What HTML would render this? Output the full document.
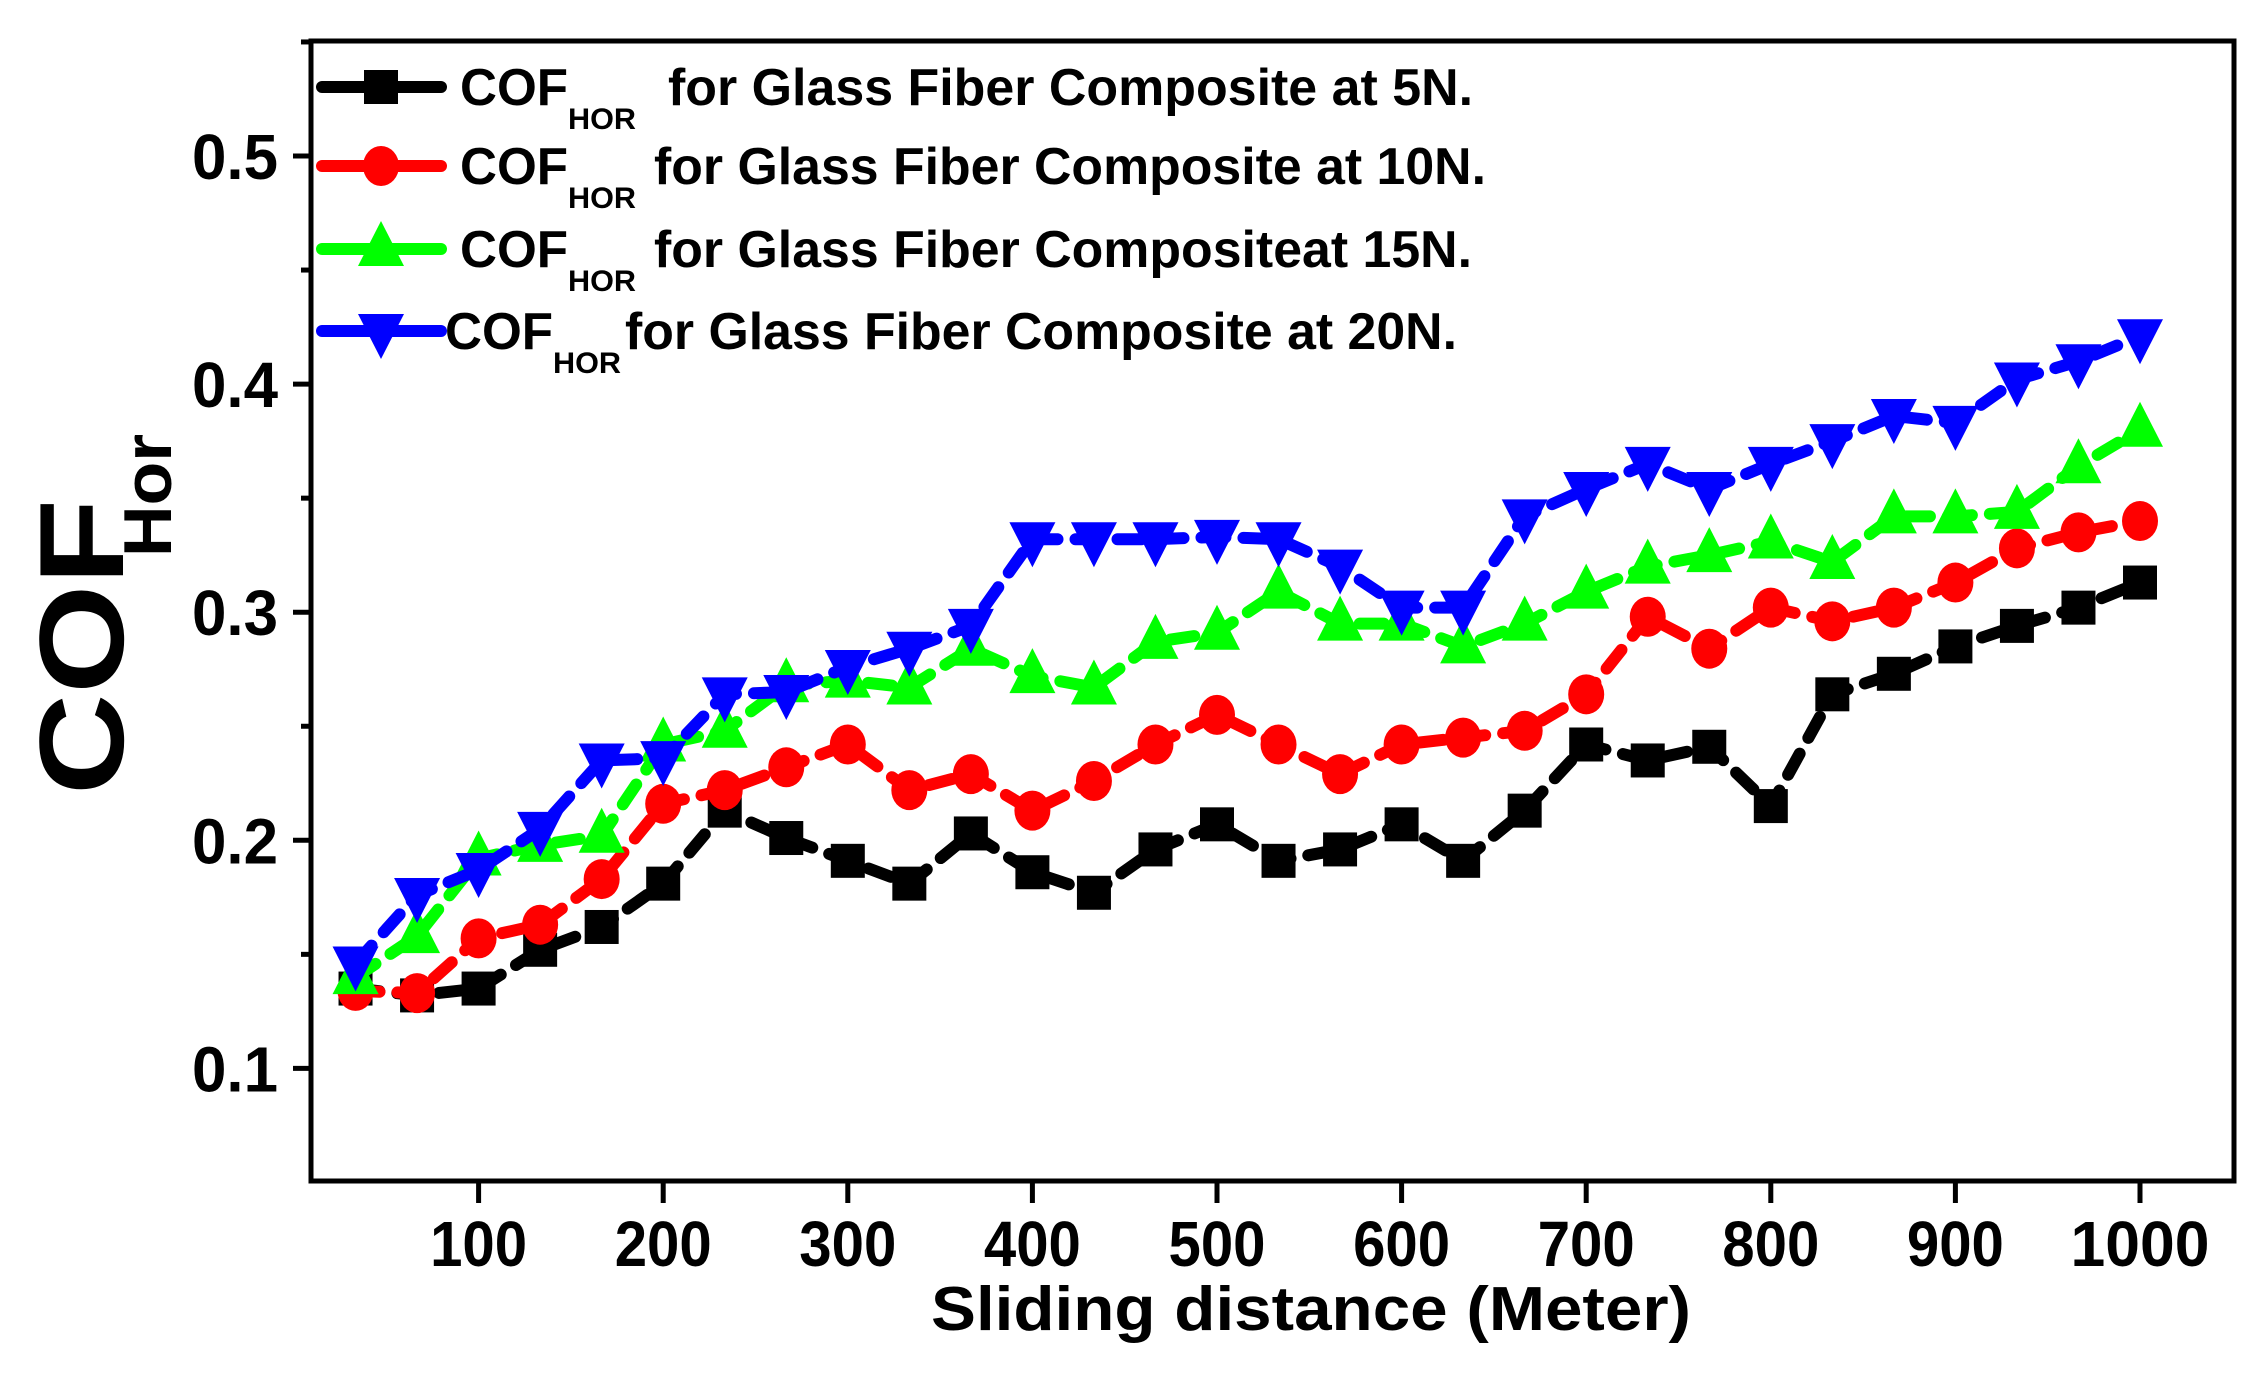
<!DOCTYPE html>
<html><head><meta charset="utf-8"><style>html,body{margin:0;padding:0;background:#fff}svg{display:block}</style></head>
<body>
<svg xmlns="http://www.w3.org/2000/svg" width="2267" height="1381" viewBox="0 0 2267 1381" font-family="Liberation Sans, Arial, sans-serif" font-weight="bold">
<rect width="2267" height="1381" fill="#fff"/>
<g id="plot"></g>
<rect x="311" y="41" width="1923" height="1140" fill="none" stroke="#000" stroke-width="5"/>
<g id="axes" stroke="#000" stroke-width="5"></g>
<g id="labels" font-size="64"></g>
<text x="1311" y="1330" font-size="62" text-anchor="middle" textLength="760" lengthAdjust="spacingAndGlyphs">Sliding distance (Meter)</text>
<g transform="translate(123,795) rotate(-90)">
<text x="0" y="0" font-size="120" textLength="296" lengthAdjust="spacingAndGlyphs">COF</text>
<text x="238" y="48" font-size="68" textLength="123" lengthAdjust="spacingAndGlyphs">Hor</text>
</g>
<g id="legend"></g>
<script>
const NS="http://www.w3.org/2000/svg";
function el(p,t,a,txt){const e=document.createElementNS(NS,t);for(const k in a)e.setAttribute(k,a[k]);if(txt!==undefined)e.textContent=txt;p.appendChild(e);return e;}
const X=d=>478.6+(d-100)*1.846, Y=v=>156+(0.5-v)*2281;
const ax=document.getElementById('axes'), lb=document.getElementById('labels');
for(let v=0.1;v<=0.501;v+=0.1){el(ax,'line',{x1:311,x2:293,y1:Y(v),y2:Y(v)});el(lb,'text',{x:278,y:Y(v)+23,'text-anchor':'end',textLength:86,lengthAdjust:'spacingAndGlyphs'},v.toFixed(1));}
for(let v=0.15;v<=0.55;v+=0.1){el(ax,'line',{x1:311,x2:301,y1:Y(v),y2:Y(v)});}
for(let d=100;d<=1000;d+=100){el(ax,'line',{x1:X(d),x2:X(d),y1:1181,y2:1203});el(lb,'text',{x:X(d),y:1266,'text-anchor':'middle',textLength:d==1000?139:97,lengthAdjust:'spacingAndGlyphs'},d);}
const S=[
["#000","sq",[0.135,0.132,0.135,0.152,0.162,0.181,0.213,0.201,0.191,0.181,0.203,0.186,0.177,0.196,0.207,0.191,0.196,0.207,0.191,0.213,0.242,0.235,0.241,0.215,0.264,0.273,0.285,0.294,0.302,0.313]],
["#f00","ci",[0.134,0.133,0.157,0.163,0.183,0.216,0.222,0.232,0.242,0.222,0.229,0.213,0.226,0.242,0.255,0.242,0.229,0.242,0.245,0.248,0.264,0.298,0.284,0.302,0.296,0.302,0.313,0.328,0.335,0.340]],
["#0f0","up",[0.140,0.158,0.192,0.198,0.202,0.242,0.248,0.268,0.270,0.267,0.284,0.272,0.267,0.287,0.291,0.309,0.295,0.295,0.285,0.295,0.309,0.320,0.325,0.331,0.322,0.342,0.342,0.344,0.364,0.380]],
["#00f","dn",[0.146,0.176,0.187,0.205,0.235,0.236,0.264,0.265,0.276,0.284,0.294,0.332,0.332,0.332,0.333,0.332,0.320,0.302,0.302,0.342,0.354,0.365,0.354,0.365,0.375,0.386,0.383,0.402,0.410,0.421]]];
function mk(g,t,x,y,c){
 if(t=="sq")el(g,'rect',{x:x-17,y:y-17,width:34,height:34,fill:c});
 else if(t=="ci")el(g,'ellipse',{cx:x,cy:y,rx:18,ry:20,fill:c});
 else if(t=="up")el(g,'polygon',{points:`${x},${y-28} ${x-23},${y+17} ${x+23},${y+17}`,fill:c});
 else el(g,'polygon',{points:`${x},${y+28} ${x-23},${y-17} ${x+23},${y-17}`,fill:c});
}
const pg=document.getElementById('plot');
S.forEach(([c,t,v])=>{
 const g=el(pg,'g',{});
 const pts=v.map((y,i)=>[X(1000*(i+1)/30),Y(y)]);
 el(g,'polyline',{points:pts.map(p=>p.join(',')).join(' '),fill:'none',stroke:c,'stroke-width':12,'stroke-dasharray':'24 18','stroke-linecap':'round','stroke-linejoin':'round'});
 pts.forEach(p=>mk(g,t,p[0],p[1],c));
});
const lg=document.getElementById('legend');
const L=[[87,460,668,"for Glass Fiber Composite at 5N.",805],[166,460,654,"for Glass Fiber Composite at 10N.",832],[249,460,654,"for Glass Fiber Compositeat 15N.",818],[331,445,625,"for Glass Fiber Composite at 20N.",832]];
L.forEach(([y,cx,fx,s,w],i)=>{
 const [c,t]=S[i];
 el(lg,'line',{x1:322,x2:441,y1:y,y2:y,stroke:c,'stroke-width':12,'stroke-linecap':'round'});
 mk(lg,t,381,y,c);
 el(lg,'text',{x:cx,y:y+18,'font-size':52,textLength:108,lengthAdjust:'spacingAndGlyphs'},'COF');
 el(lg,'text',{x:cx+108,y:y+42,'font-size':30,textLength:68,lengthAdjust:'spacingAndGlyphs'},'HOR');
 el(lg,'text',{x:fx,y:y+18,'font-size':52,textLength:w,lengthAdjust:'spacingAndGlyphs'},s);
});
</script>
</svg>
</body></html>
